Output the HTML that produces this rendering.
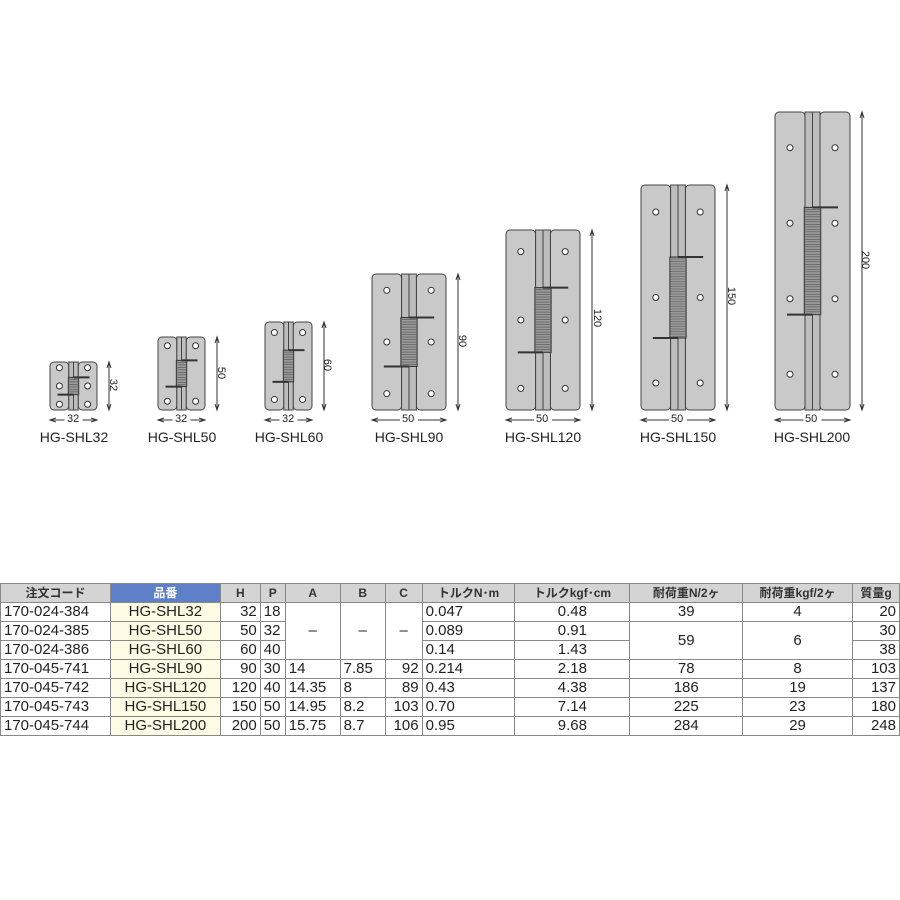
<!DOCTYPE html>
<html><head><meta charset="utf-8"><style>
body{margin:0;background:#fff;width:900px;height:900px;overflow:hidden;position:relative;font-family:"Liberation Sans","Noto Sans CJK JP",sans-serif}
svg{position:absolute;left:0;top:0}
table{position:absolute;left:0;top:583px;border-collapse:collapse;font-size:15px;color:#222;table-layout:fixed}
td{border:1px solid #888;height:18px;padding:0 3px;white-space:nowrap;line-height:18px;overflow:hidden}
tr.h td{background:#d4d4d4;text-align:center;font-size:12px;font-weight:bold;color:#333}
td.b{background:#5d80c8!important;color:#fff!important}
td.y{background:#fdfbe3;text-align:center}
.r{text-align:right}.c{text-align:center}
.lbl{position:absolute;top:429px;font-size:14px;color:#222;transform:translateX(-50%)}
.d{position:absolute;font-size:11px;color:#222}
</style></head><body>
<svg id="s" width="900" height="900"></svg>
<div class="lbl" style="left:74px">HG-SHL32</div>
<div class="lbl" style="left:182px">HG-SHL50</div>
<div class="lbl" style="left:289px">HG-SHL60</div>
<div class="lbl" style="left:409px">HG-SHL90</div>
<div class="lbl" style="left:543px">HG-SHL120</div>
<div class="lbl" style="left:678px">HG-SHL150</div>
<div class="lbl" style="left:812px">HG-SHL200</div>
<div class="d" style="left:67px;top:413px">32</div>
<div class="d" style="left:175px;top:413px">32</div>
<div class="d" style="left:282px;top:413px">32</div>
<div class="d" style="left:402px;top:413px">50</div>
<div class="d" style="left:536px;top:413px">50</div>
<div class="d" style="left:671px;top:413px">50</div>
<div class="d" style="left:805px;top:413px">50</div>
<div class="d" style="left:107px;top:379px;transform:rotate(90deg)">32</div>
<div class="d" style="left:215px;top:367px;transform:rotate(90deg)">50</div>
<div class="d" style="left:321px;top:359px;transform:rotate(90deg)">60</div>
<div class="d" style="left:456px;top:335px;transform:rotate(90deg)">90</div>
<div class="d" style="left:588px;top:312px;transform:rotate(90deg)">120</div>
<div class="d" style="left:722px;top:290px;transform:rotate(90deg)">150</div>
<div class="d" style="left:856px;top:254px;transform:rotate(90deg)">200</div>
<table>
<colgroup><col style="width:110px"><col style="width:110px"><col style="width:40px"><col style="width:25px"><col style="width:55px"><col style="width:45px"><col style="width:37px"><col style="width:93px"><col style="width:115px"><col style="width:113px"><col style="width:110px"><col style="width:47px"></colgroup>
<tr class="h"><td>注文コード</td><td class="b">品番</td><td>H</td><td>P</td><td>A</td><td>B</td><td>C</td><td>トルクN･m</td><td>トルクkgf･cm</td><td>耐荷重N/2ヶ</td><td>耐荷重kgf/2ヶ</td><td>質量g</td></tr>
<tr><td>170-024-384</td><td class="y">HG-SHL32</td><td class="r">32</td><td>18</td><td rowspan="3" class="c">–</td><td rowspan="3" class="c">–</td><td rowspan="3" class="c">–</td><td>0.047</td><td class="c">0.48</td><td class="c">39</td><td class="c">4</td><td class="r">20</td></tr>
<tr><td>170-024-385</td><td class="y">HG-SHL50</td><td class="r">50</td><td>32</td><td>0.089</td><td class="c">0.91</td><td rowspan="2" class="c">59</td><td rowspan="2" class="c">6</td><td class="r">30</td></tr>
<tr><td>170-024-386</td><td class="y">HG-SHL60</td><td class="r">60</td><td>40</td><td>0.14</td><td class="c">1.43</td><td class="r">38</td></tr>
<tr><td>170-045-741</td><td class="y">HG-SHL90</td><td class="r">90</td><td>30</td><td>14</td><td>7.85</td><td class="r">92</td><td>0.214</td><td class="c">2.18</td><td class="c">78</td><td class="c">8</td><td class="r">103</td></tr>
<tr><td>170-045-742</td><td class="y">HG-SHL120</td><td class="r">120</td><td>40</td><td>14.35</td><td>8</td><td class="r">89</td><td>0.43</td><td class="c">4.38</td><td class="c">186</td><td class="c">19</td><td class="r">137</td></tr>
<tr><td>170-045-743</td><td class="y">HG-SHL150</td><td class="r">150</td><td>50</td><td>14.95</td><td>8.2</td><td class="r">103</td><td>0.70</td><td class="c">7.14</td><td class="c">225</td><td class="c">23</td><td class="r">180</td></tr>
<tr><td>170-045-744</td><td class="y">HG-SHL200</td><td class="r">200</td><td>50</td><td>15.75</td><td>8.7</td><td class="r">106</td><td>0.95</td><td class="c">9.68</td><td class="c">284</td><td class="c">29</td><td class="r">248</td></tr>
</table>
<script>
var H=[[50,97,362,3],[158,205,337,2],[265,312,322,2],[372,446,274,3],[506,580,230,3],[641,715,185,3],[775,850,112,4]];
var s='';
H.forEach(function(h){var x0=h[0],x1=h[1],y0=h[2],y1=410,w=x1-x0,L=w*0.4,cx=(x0+x1)/2;
s+='<rect x="'+x0+'" y="'+y0+'" width="'+L+'" height="'+(y1-y0)+'" rx="4" fill="#c9c9c9" stroke="#444" stroke-width="1"/>';
s+='<rect x="'+(x1-L)+'" y="'+y0+'" width="'+L+'" height="'+(y1-y0)+'" rx="4" fill="#c9c9c9" stroke="#444" stroke-width="1"/>';
s+='<rect x="'+(x0+L)+'" y="'+y0+'" width="'+(w-2*L)+'" height="'+(y1-y0)+'" fill="#bdbdbd" stroke="#444"/>';
s+='<line x1="'+cx+'" y1="'+y0+'" x2="'+cx+'" y2="'+y1+'" stroke="#444"/>';
var n=h[3],hh=y1-y0;
for(var i=0;i<n;i++){var yy=y0+hh*(0.12+0.76*i/(n-1));
s+='<circle cx="'+(x0+L/2)+'" cy="'+yy+'" r="3" fill="#fff" stroke="#333"/><circle cx="'+(x1-L/2)+'" cy="'+yy+'" r="3" fill="#fff" stroke="#333"/>';}
var sh=hh*0.36,sy=y0+hh*0.32,sw=w*0.22;
s+='<rect x="'+(cx-sw/2)+'" y="'+sy+'" width="'+sw+'" height="'+sh+'" fill="#999" stroke="#333"/>';
for(var k=sy+2;k<sy+sh;k+=2.5)s+='<line x1="'+(cx-sw/2)+'" y1="'+k+'" x2="'+(cx+sw/2)+'" y2="'+k+'" stroke="#555" stroke-width="0.6"/>';
s+='<line x1="'+cx+'" y1="'+sy+'" x2="'+(x1-L*0.4)+'" y2="'+sy+'" stroke="#333" stroke-width="2"/>';
s+='<line x1="'+(x0+L*0.4)+'" y1="'+(sy+sh)+'" x2="'+cx+'" y2="'+(sy+sh)+'" stroke="#333" stroke-width="2"/>';
var dx=x1+12;
s+='<line x1="'+dx+'" y1="'+y0+'" x2="'+dx+'" y2="'+y1+'" stroke="#333"/><path d="M'+(dx-2)+' '+(y0+6)+'L'+dx+' '+y0+'L'+(dx+2)+' '+(y0+6)+'M'+(dx-2)+' '+(y1-6)+'L'+dx+' '+y1+'L'+(dx+2)+' '+(y1-6)+'" fill="none" stroke="#333"/>';
s+='<line x1="'+x0+'" y1="'+420+'" x2="'+(cx-9)+'" y2="420" stroke="#333"/><line x1="'+(cx+9)+'" y1="420" x2="'+x1+'" y2="420" stroke="#333"/>';
s+='<path d="M'+(x0+6)+' 418L'+x0+' 420L'+(x0+6)+' 422M'+(x1-6)+' 418L'+x1+' 420L'+(x1-6)+' 422" fill="none" stroke="#333"/>';
});
document.getElementById('s').innerHTML=s;
</script>
</body></html>
